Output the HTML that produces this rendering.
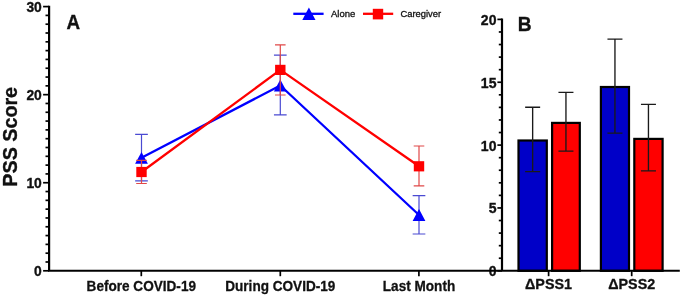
<!DOCTYPE html>
<html><head><meta charset="utf-8"><title>PSS Score</title>
<style>
html,body{margin:0;padding:0;background:#fff;}
body{width:685px;height:298px;overflow:hidden;}
svg{display:block;filter:blur(0.35px);}
text{font-family:"Liberation Sans",Arial,sans-serif;fill:#111;}
.b{font-weight:bold;}
</style></head><body>
<svg width="685" height="298" viewBox="0 0 685 298">
<rect width="685" height="298" fill="#fff"/>

<g stroke="#000" stroke-width="2.2" fill="none">
<path d="M49.1 5.69 V270.8"/>
</g>
<g stroke="#000" stroke-width="1.7" fill="none">
<path d="M43.1 270.80 H49.1"/>
<path d="M45.5 261.99 H49.1"/>
<path d="M45.5 253.19 H49.1"/>
<path d="M45.5 244.38 H49.1"/>
<path d="M45.5 235.57 H49.1"/>
<path d="M45.5 226.77 H49.1"/>
<path d="M45.5 217.96 H49.1"/>
<path d="M45.5 209.15 H49.1"/>
<path d="M45.5 200.34 H49.1"/>
<path d="M45.5 191.54 H49.1"/>
<path d="M43.1 182.73 H49.1"/>
<path d="M45.5 173.92 H49.1"/>
<path d="M45.5 165.12 H49.1"/>
<path d="M45.5 156.31 H49.1"/>
<path d="M45.5 147.50 H49.1"/>
<path d="M45.5 138.69 H49.1"/>
<path d="M45.5 129.89 H49.1"/>
<path d="M45.5 121.08 H49.1"/>
<path d="M45.5 112.27 H49.1"/>
<path d="M45.5 103.47 H49.1"/>
<path d="M43.1 94.66 H49.1"/>
<path d="M45.5 85.85 H49.1"/>
<path d="M45.5 77.05 H49.1"/>
<path d="M45.5 68.24 H49.1"/>
<path d="M45.5 59.43 H49.1"/>
<path d="M45.5 50.62 H49.1"/>
<path d="M45.5 41.82 H49.1"/>
<path d="M45.5 33.01 H49.1"/>
<path d="M45.5 24.20 H49.1"/>
<path d="M45.5 15.40 H49.1"/>
<path d="M43.1 6.59 H49.1"/>
<path d="M141.3 270.8 V276.2"/>
<path d="M280.3 270.8 V276.2"/>
<path d="M418.9 270.8 V276.2"/>
</g>
<text class="b" transform="translate(41.80,276.00) scale(0.95,1)" font-size="14.6" text-anchor="end" stroke="#111" stroke-width="0.35">0</text>
<text class="b" transform="translate(41.80,187.93) scale(0.95,1)" font-size="14.6" text-anchor="end" stroke="#111" stroke-width="0.35">10</text>
<text class="b" transform="translate(41.80,99.86) scale(0.95,1)" font-size="14.6" text-anchor="end" stroke="#111" stroke-width="0.35">20</text>
<text class="b" transform="translate(41.80,11.79) scale(0.95,1)" font-size="14.6" text-anchor="end" stroke="#111" stroke-width="0.35">30</text>
<text class="b" transform="translate(17.3,136.8) rotate(-90) scale(0.94,1)" font-size="21" text-anchor="middle" stroke="#111" stroke-width="0.35">PSS Score</text>
<text class="b" transform="translate(73.20,28.50) scale(0.95,1)" font-size="19.8" text-anchor="middle" stroke="#111" stroke-width="0.35">A</text>
<text class="b" transform="translate(141.30,291.10) scale(0.95,1)" font-size="14.3" text-anchor="middle" stroke="#111" stroke-width="0.3">Before COVID-19</text>
<text class="b" transform="translate(280.30,291.10) scale(0.95,1)" font-size="14.3" text-anchor="middle" stroke="#111" stroke-width="0.3">During COVID-19</text>
<text class="b" transform="translate(419.00,291.10) scale(0.95,1)" font-size="14.3" text-anchor="middle" stroke="#111" stroke-width="0.3">Last Month</text>
<path d="M141.5 134.4 V180.9 M135.15 134.4 H147.85 M135.15 180.9 H147.85" stroke="#4a4ad2" stroke-width="1.2" fill="none"/>
<path d="M280.3 55.1 V114.9 M273.95 55.1 H286.65000000000003 M273.95 114.9 H286.65000000000003" stroke="#4a4ad2" stroke-width="1.2" fill="none"/>
<path d="M419.0 195.6 V234.0 M412.65 195.6 H425.35 M412.65 234.0 H425.35" stroke="#4a4ad2" stroke-width="1.2" fill="none"/>
<path d="M141.5 157.8 L280.3 85.5 L419.0 215.0" stroke="#0000ff" stroke-width="2.3" fill="none" stroke-linejoin="round"/>
<path d="M141.5 151.90 L147.9 163.70 H135.1 Z" fill="#0000ff"/>
<path d="M280.3 79.60 L286.7 91.40 H273.90000000000003 Z" fill="#0000ff"/>
<path d="M419.0 209.10 L425.4 220.90 H412.6 Z" fill="#0000ff"/>
<path d="M141.5 160.3 V183.5 M136.2 160.3 H146.8 M136.2 183.5 H146.8" stroke="#e04848" stroke-width="1.2" fill="none"/>
<path d="M280.3 44.8 V95.0 M275.0 44.8 H285.6 M275.0 95.0 H285.6" stroke="#e04848" stroke-width="1.2" fill="none"/>
<path d="M419.0 146.0 V185.9 M413.7 146.0 H424.3 M413.7 185.9 H424.3" stroke="#e04848" stroke-width="1.2" fill="none"/>
<path d="M141.5 172.0 L280.3 69.9 L419.0 166.3" stroke="#ff0000" stroke-width="2.3" fill="none" stroke-linejoin="round"/>
<rect x="136.30" y="166.90" width="10.4" height="10.2" fill="#ff0000"/>
<rect x="275.10" y="64.80" width="10.4" height="10.2" fill="#ff0000"/>
<rect x="413.80" y="161.20" width="10.4" height="10.2" fill="#ff0000"/>
<path d="M293.3 13.8 H323.6" stroke="#0000ff" stroke-width="2.3"/>
<path d="M308.9 7.6 L315.5 20.1 H302.3 Z" fill="#0000ff"/>
<text x="331" y="16.9" font-size="9.5" stroke="#111" stroke-width="0.3">Alone</text>
<path d="M363 13.8 H393.2" stroke="#ff0000" stroke-width="2.3"/>
<rect x="372.8" y="8.8" width="10.4" height="10.6" fill="#ff0000"/>
<text x="400.5" y="17" font-size="9.4" stroke="#111" stroke-width="0.3">Caregiver</text>
<g stroke="#000" stroke-width="2.2" fill="none">
<path d="M502.0 18.50 V270.8"/>
</g>
<g stroke="#000" stroke-width="1.7" fill="none">
<path d="M497.4 270.80 H502.0"/>
<path d="M498.8 258.23 H502.0"/>
<path d="M498.8 245.66 H502.0"/>
<path d="M498.8 233.09 H502.0"/>
<path d="M498.8 220.52 H502.0"/>
<path d="M497.4 207.95 H502.0"/>
<path d="M498.8 195.38 H502.0"/>
<path d="M498.8 182.81 H502.0"/>
<path d="M498.8 170.24 H502.0"/>
<path d="M498.8 157.67 H502.0"/>
<path d="M497.4 145.10 H502.0"/>
<path d="M498.8 132.53 H502.0"/>
<path d="M498.8 119.96 H502.0"/>
<path d="M498.8 107.39 H502.0"/>
<path d="M498.8 94.82 H502.0"/>
<path d="M497.4 82.25 H502.0"/>
<path d="M498.8 69.68 H502.0"/>
<path d="M498.8 57.11 H502.0"/>
<path d="M498.8 44.54 H502.0"/>
<path d="M498.8 31.97 H502.0"/>
<path d="M497.4 19.40 H502.0"/>
<path d="M548.6 270.8 V276.2"/>
<path d="M631.7 270.8 V276.2"/>
</g>
<text class="b" transform="translate(496.50,276.30) scale(0.95,1)" font-size="14.8" text-anchor="end" stroke="#111" stroke-width="0.35">0</text>
<text class="b" transform="translate(496.50,213.45) scale(0.95,1)" font-size="14.8" text-anchor="end" stroke="#111" stroke-width="0.35">5</text>
<text class="b" transform="translate(496.50,150.60) scale(0.95,1)" font-size="14.8" text-anchor="end" stroke="#111" stroke-width="0.35">10</text>
<text class="b" transform="translate(496.50,87.75) scale(0.95,1)" font-size="14.8" text-anchor="end" stroke="#111" stroke-width="0.35">15</text>
<text class="b" transform="translate(496.50,24.90) scale(0.95,1)" font-size="14.8" text-anchor="end" stroke="#111" stroke-width="0.35">20</text>
<text class="b" transform="translate(524.60,30.90) scale(0.95,1)" font-size="20.2" text-anchor="middle" stroke="#111" stroke-width="0.35">B</text>
<text class="b" transform="translate(548.50,289.30) scale(0.95,1)" font-size="15.1" text-anchor="middle" stroke="#111" stroke-width="0.3">ΔPSS1</text>
<text class="b" transform="translate(631.70,289.30) scale(0.95,1)" font-size="15.1" text-anchor="middle" stroke="#111" stroke-width="0.3">ΔPSS2</text>
<rect x="518.50" y="140.50" width="28.30" height="130.30" fill="#0000c8" stroke="#000" stroke-width="2.2"/>
<path d="M532.65 107.2 V171.6 M525.15 107.2 H540.15 M525.15 171.6 H540.15" stroke="#1a1a1a" stroke-width="1.35" fill="none"/>
<rect x="552.10" y="122.90" width="27.70" height="147.90" fill="#ff0000" stroke="#000" stroke-width="2.2"/>
<path d="M565.95 92.4 V151.1 M558.45 92.4 H573.45 M558.45 151.1 H573.45" stroke="#1a1a1a" stroke-width="1.35" fill="none"/>
<rect x="600.90" y="87.00" width="28.10" height="183.80" fill="#0000c8" stroke="#000" stroke-width="2.2"/>
<path d="M614.95 39.1 V133.1 M607.45 39.1 H622.45 M607.45 133.1 H622.45" stroke="#1a1a1a" stroke-width="1.35" fill="none"/>
<rect x="634.30" y="138.90" width="28.30" height="131.90" fill="#ff0000" stroke="#000" stroke-width="2.2"/>
<path d="M648.45 104.3 V170.9 M640.95 104.3 H655.95 M640.95 170.9 H655.95" stroke="#1a1a1a" stroke-width="1.35" fill="none"/>
<path d="M48.0 270.8 H679.8" stroke="#000" stroke-width="2.1"/>
</svg></body></html>
